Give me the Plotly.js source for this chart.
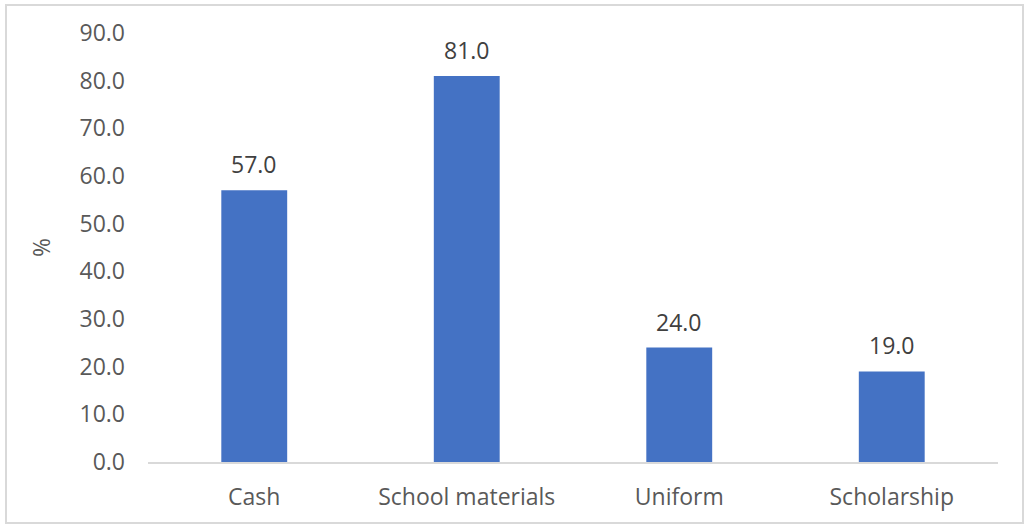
<!DOCTYPE html>
<html><head><meta charset="utf-8">
<script src="https://cdn.plot.ly/plotly-3.0.1.min.js"></script>
<style>
html,body{margin:0;padding:0;background:#fff;}
#wrap{position:relative;width:1026px;height:525px;}
#chart{width:1026px;height:525px;}
#frame{position:absolute;left:5px;top:4px;width:1015px;height:516px;border:2px solid #d9d9d9;pointer-events:none;}
</style></head>
<body>
<div id="wrap"><div id="chart"></div><div id="frame"></div></div>
<script>
const categories = ["Cash", "School materials", "Uniform", "Scholarship"];
const values = [57.0, 81.0, 24.0, 19.0];
const yTicks = [0, 10, 20, 30, 40, 50, 60, 70, 80, 90];

const font = "'Open Sans', sans-serif";
const trace = {
  type: "bar", x: categories, y: values,
  marker: {color: "#4472c4"}, width: 0.31, hoverinfo: "skip"
};
const annotations = categories.map((c, i) => ({
  x: c, y: values[i], text: values[i].toFixed(1), showarrow: false,
  yanchor: "bottom", yshift: 8, font: {family: font, size: 23, color: "#404040"}
}));
const layout = {
  width: 1026, height: 525,
  margin: {l: 148, r: 28, t: 33, b: 63},
  paper_bgcolor: "#fff", plot_bgcolor: "#fff",
  showlegend: false,
  xaxis: {
    showline: true, linecolor: "#d9d9d9", linewidth: 1.5,
    ticks: "", showgrid: false, zeroline: false,
    tickfont: {family: font, size: 23, color: "#595959"},
    ticklabelstandoff: 14
  },
  yaxis: {
    range: [0, 90], tickvals: yTicks, ticktext: yTicks.map(v => v.toFixed(1)),
    showgrid: false, zeroline: false, showline: false, ticks: "",
    tickfont: {family: font, size: 23, color: "#595959"},
    ticklabelstandoff: 22,
    title: {text: "%", font: {family: font, size: 23, color: "#595959"}, standoff: 22}
  },
  annotations: annotations
};
Plotly.newPlot("chart", [trace], layout, {displayModeBar: false, staticPlot: true});
</script>
</body></html>
